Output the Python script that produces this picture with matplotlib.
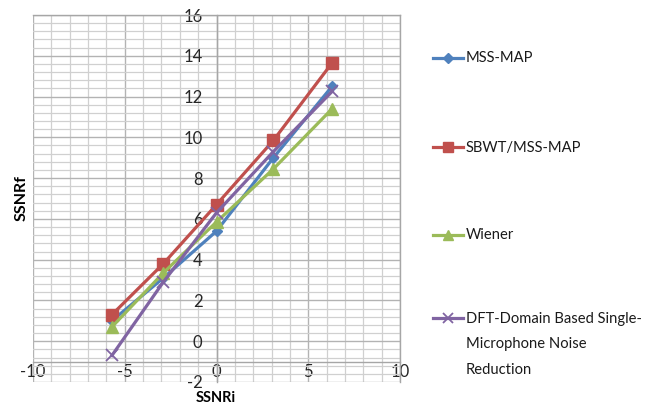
import matplotlib
matplotlib.use("Agg")
import matplotlib.pyplot as plt
from matplotlib.ticker import MultipleLocator
from matplotlib.lines import Line2D

plt.rcParams["axes.unicode_minus"] = False

# input SNR points (dB)
ssnr_in = [-5.7, -2.9, 0.0, 3.1, 6.3]

# output segmental SNR per method
mss_map = [1.0, 3.1, 5.4, 9.0, 12.5]
sbwt_mss_map = [1.3, 3.8, 6.7, 9.85, 13.65]
wiener = [0.7, 3.35, 5.85, 8.45, 11.4]
dft_domain = [-0.7, 2.9, 6.3, 9.3, 12.25]

labels = [
    "MSS-MAP",
    "SBWT/MSS-MAP",
    "Wiener",
    "DFT-Domain Based Single-\nMicrophone Noise\nReduction",
]

FONT = ["Lato", "DejaVu Sans"]

styles = [
    dict(color="#4F81BD", marker="D", markersize=5.5),
    dict(color="#C0504D", marker="s", markersize=8.5),
    dict(color="#9BBB59", marker="^", markersize=9),
    dict(color="#8064A2", marker="x", markersize=8, markeredgewidth=1.3),
]

fig = plt.figure(figsize=(6.48, 4.08), dpi=100)
ax = fig.add_axes([33 / 648, 1 - 382 / 408, 367 / 648, 367 / 408])

series = [mss_map, sbwt_mss_map, wiener, dft_domain]
for i, (ys, st) in enumerate(zip(series, styles)):
    ax.plot(ssnr_in, ys, linewidth=2.3, zorder=3 + i, **st)

ax.set_xlim(-10, 10)
ax.set_ylim(-2, 16)
ax.xaxis.set_major_locator(MultipleLocator(5))
ax.xaxis.set_minor_locator(MultipleLocator(1))
ax.yaxis.set_major_locator(MultipleLocator(2))
ax.yaxis.set_minor_locator(MultipleLocator(0.4))
ax.grid(which="major", color="#b3b3b3", linewidth=1.0)
ax.grid(which="minor", color="#d0d0d0", linewidth=0.9)
ax.set_axisbelow(True)

# axes cross inside the plot area, Excel style
ax.spines["left"].set_position(("data", 0))
ax.spines["bottom"].set_position(("data", -1))
for s in ax.spines.values():
    s.set_color("#a6a6a6")
    s.set_linewidth(1.0)
ax.tick_params(which="both", length=0)
ax.tick_params(axis="y", pad=10)
ax.tick_params(axis="x", pad=2)
for lab in ax.get_xticklabels() + ax.get_yticklabels():
    lab.set_fontfamily(FONT)
    lab.set_fontsize(12)
    lab.set_color("#262626")

fig.text(22 / 648, 1 - 198 / 408, "SSNRf", rotation=90, ha="center", va="center",
         fontsize=11.5, fontweight="bold", family=FONT)
fig.text(216 / 648, 1 - 398 / 408, "SSNRi", ha="center", va="center",
         fontsize=10.5, fontweight="bold", family=FONT)

# legend on the right, handles aligned with the first text line
leg_y = [58, 147, 235, 318]
for lab, st, y in zip(labels, styles, leg_y):
    yf = 1 - y / 408
    st_leg = dict(st)
    st_leg["markersize"] = st["markersize"] * 0.85
    fig.add_artist(Line2D([433 / 648, 448 / 648, 463 / 648], [yf, yf, yf],
                          linewidth=2.3, transform=fig.transFigure,
                          markevery=[1], **st_leg))
    fig.text(466 / 648, yf + 6.5 / 408, lab, ha="left", va="top", fontsize=10.6,
             family=FONT, color="#1a1a1a", linespacing=2.05)

fig.savefig("out.png", dpi=100)
